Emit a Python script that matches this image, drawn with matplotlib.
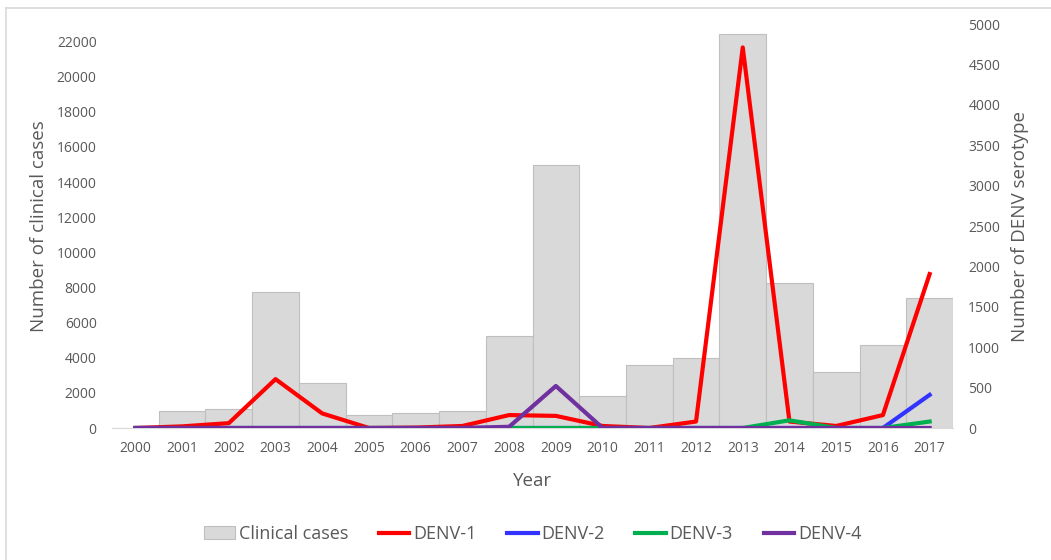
import numpy as np
import matplotlib
matplotlib.use('Agg')
import matplotlib.pyplot as plt
from matplotlib.lines import Line2D

plt.rcParams['font.family'] = ['Open Sans', 'DejaVu Sans']

# data
years = ['2000', '2001', '2002', '2003', '2004', '2005', '2006', '2007', '2008',
         '2009', '2010', '2011', '2012', '2013', '2014', '2015', '2016', '2017']
clinical_cases = [0, 950, 1100, 7770, 2550, 740, 870, 990, 5240,
                  14990, 1820, 3590, 4010, 22430, 8240, 3210, 4730, 7420]
denv1 = [0, 20, 60, 605, 180, 0, 5, 25, 160, 150, 25, 0, 80, 4710, 80, 25, 160, 1905]
denv2 = [0, 0, 0, 0, 0, 0, 0, 0, 0, 0, 0, 0, 0, 0, 0, 0, 0, 410]
denv3 = [0, 0, 0, 0, 0, 0, 0, 0, 0, 0, 0, 0, 0, 0, 95, 0, 0, 80]
denv4 = [0, 0, 0, 0, 0, 0, 0, 0, 15, 520, 0, 0, 0, 0, 0, 0, 0, 0]

txt = '#595959'
x = np.arange(len(years))

fig = plt.figure(figsize=(10.51, 5.6), dpi=100)
# chart frame (partly cut off like the reference)
fig.add_artist(Line2D([6/1051, 1], [1 - 8/560, 1 - 8/560], color='#D9D9D9', lw=1.2))
fig.add_artist(Line2D([6/1051, 6/1051], [0, 1 - 8/560], color='#D9D9D9', lw=1.2))

ax = fig.add_axes([112/1051, 132/560, 841/1051, 404/560])
ax.bar(x, clinical_cases, width=1.0, color='#D9D9D9', edgecolor='#BFBFBF',
       linewidth=0.8, label='Clinical cases')
ax.set_xlim(-0.5, len(years) - 0.5)
ax.set_ylim(0, 23000)
ax.set_yticks(np.arange(0, 22001, 2000))
ax.set_xticks(x)
ax.set_xticklabels(years)

ax2 = ax.twinx()
ax2.plot(x, denv1, color='#FF0000', lw=3, label='DENV-1')
ax2.plot(x, denv2, color='#3333FF', lw=3, label='DENV-2')
ax2.plot(x, denv3, color='#00B050', lw=3, label='DENV-3')
ax2.plot(x, denv4, color='#7030A0', lw=3, label='DENV-4')
ax2.set_ylim(0, 5000)
ax2.set_yticks(np.arange(0, 5001, 500))

for a in (ax, ax2):
    for s in a.spines.values():
        s.set_visible(False)
    a.tick_params(length=0, colors=txt, labelsize=10)
ax.spines['bottom'].set_visible(True)
ax.spines['bottom'].set_color('#D9D9D9')
ax.tick_params(axis='y', pad=11)
ax.tick_params(axis='x', pad=9)
ax2.tick_params(axis='y', pad=11)

ax.set_xlabel('Year', fontsize=13.5, color=txt, labelpad=12)
ax.set_ylabel('Number of clinical cases', fontsize=13.5, color=txt, labelpad=6)
ax2.set_ylabel('Number of DENV serotype', fontsize=13.5, color=txt, labelpad=8)

h1, l1 = ax.get_legend_handles_labels()
h2, l2 = ax2.get_legend_handles_labels()
leg = fig.legend(h1 + h2, l1 + l2, loc='center', bbox_to_anchor=(0.507, 1 - 534/560),
                 ncol=5, frameon=False, fontsize=13, handlelength=1.7,
                 handletextpad=0.2, columnspacing=1.7)
for t in leg.get_texts():
    t.set_color(txt)

fig.savefig('out.png', dpi=100)
